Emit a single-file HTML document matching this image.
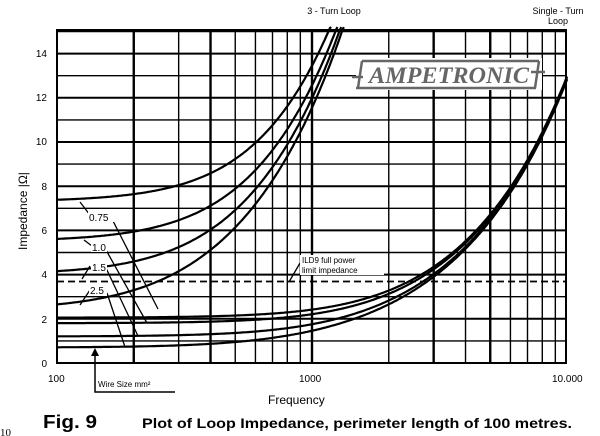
<!DOCTYPE html>
<html><head><style>
html,body{margin:0;padding:0;background:#fff;}
svg{display:block;font-family:"Liberation Sans",sans-serif;}
</style></head><body>
<svg id="s" width="600" height="436" viewBox="0 0 600 436" xmlns="http://www.w3.org/2000/svg">
<g id="grid" stroke="#000" fill="none"></g>
<g id="curves" stroke="#000" fill="none" stroke-width="2.2"></g>
<line x1="57" y1="281.5" x2="566" y2="281.5" stroke="#000" stroke-width="1.8" stroke-dasharray="7,4"/>
<!-- logo -->
<rect x="356" y="58" width="186" height="32" fill="#fff"/>
<g stroke="#666" stroke-width="2.5" fill="none">
<path d="M352 77 H363 M531 72 H545"/>
<path d="M362 61 H539 M356 88 H536 M362 61 L358 88 M539 61 L535 88"/>
</g>
<text x="449" y="83" font-family="Liberation Serif,serif" font-style="italic" font-weight="bold" font-size="23" fill="#666" text-anchor="middle" textLength="160" lengthAdjust="spacingAndGlyphs">AMPETRONIC</text>
<!-- labels -->
<g stroke="#000" stroke-width="1.3" fill="none">
<path d="M80 202 L90 215 M112 219 L158 309"/>
<path d="M84 240 L92 246 M106 250 L147 323"/>
<path d="M82 279 L90 266 M106 268 L138 336"/>
<path d="M80 305 L90 290 M107 293 L125 347"/>
<path d="M289 282 L300 263"/>
<path d="M95 354 V392 H175" stroke-width="1.5"/>
</g>
<path d="M95 348 L91 356 L99 356 Z" fill="#000"/>
<g font-size="10" fill="#000">
<rect x="88" y="211" width="26" height="11" fill="#fff"/>
<text x="89" y="221">0.75</text>
<rect x="91" y="241" width="16" height="11" fill="#fff"/>
<text x="92" y="251">1.0</text>
<rect x="91" y="261" width="16" height="11" fill="#fff"/>
<text x="92" y="271">1.5</text>
<rect x="89" y="284" width="18" height="11" fill="#fff"/>
<text x="90" y="294">2.5</text>
</g>
<rect x="300" y="255" width="84" height="20" fill="#fff"/>
<text x="302" y="263" font-size="8">ILD9 full power</text>
<text x="302" y="273" font-size="8">limit impedance</text>
<text x="98" y="387" font-size="8">Wire Size mm²</text>
<g font-size="10" text-anchor="end">
<text x="47" y="57">14</text><text x="47" y="101">12</text><text x="47" y="145">10</text>
<text x="47" y="190">8</text><text x="47" y="234">6</text><text x="47" y="278">4</text>
<text x="47" y="323">2</text><text x="47" y="367">0</text>
</g>
<text x="48" y="382" font-size="10">100</text>
<text x="299" y="382" font-size="10">1000</text>
<text x="552" y="382" font-size="10">10.000</text>
<text x="334" y="14" font-size="9" text-anchor="middle">3 - Turn Loop</text>
<text x="558" y="14" font-size="9" text-anchor="middle">Single - Turn</text>
<text x="558" y="24" font-size="9" text-anchor="middle">Loop</text>
<text x="268" y="404" font-size="12">Frequency</text>
<text transform="translate(27,250) rotate(-90)" font-size="12">Impedance  |Ω|</text>
<text x="43" y="428" font-size="18" font-weight="bold" textLength="54" lengthAdjust="spacingAndGlyphs">Fig. 9</text>
<text x="142" y="428" font-size="14" font-weight="bold" textLength="430" lengthAdjust="spacingAndGlyphs">Plot of Loop Impedance, perimeter length of 100 metres.</text>
<text x="0" y="436" font-size="11" font-family="Liberation Serif,serif">10</text>
</svg>
<script>
var X0=57,D=255,Y0=363,U=22.1,TOP=30,R=566;
function fx(f){return X0+D*Math.log10(f/100);}
function fy(v){return Y0-v*U;}
var g=document.getElementById('grid'),h='';
for(var v=0;v<=15;v++){var y=fy(v);if(y<TOP)continue;h+='<line x1="'+X0+'" x2="'+R+'" y1="'+y+'" y2="'+y+'" stroke-width="'+(v%2==0?2:1.4)+'"/>';}
[200,300,400,500,600,700,800,900,1000,2000,3000,4000,5000,6000,7000,8000,9000].forEach(function(f){var x=fx(f);var w=(f==200||f==400||f==1000||f==3000||f==5000)?2.4:1.4;h+='<line x1="'+x+'" x2="'+x+'" y1="'+TOP+'" y2="'+Y0+'" stroke-width="'+w+'"/>';});
h+='<rect x="'+X0+'" y="'+TOP+'" width="'+(R-X0)+'" height="'+(Y0-TOP)+'" stroke-width="2"/>';
g.innerHTML=h;
var c='';
function curve(Rr,k){var d='';for(var i=0;i<=400;i++){var f=100*Math.pow(100,i/400);var z=Math.sqrt(Rr*Rr+Math.pow(k*f,2));if(z>15.2)z=15.2;var x=fx(f),y=fy(z);d+=(i?'L':'M')+x.toFixed(1)+' '+y.toFixed(1);if(z>=15.2)break;}return '<path d="'+d+'"/>';}
[7.3,5.5,4.0,2.4].forEach(function(r){c+=curve(r,0.0113);});
[2.05,1.8,1.2,0.7].forEach(function(r){c+=curve(r,0.00128);});
document.getElementById('curves').innerHTML=c;
</script>
</body></html>
